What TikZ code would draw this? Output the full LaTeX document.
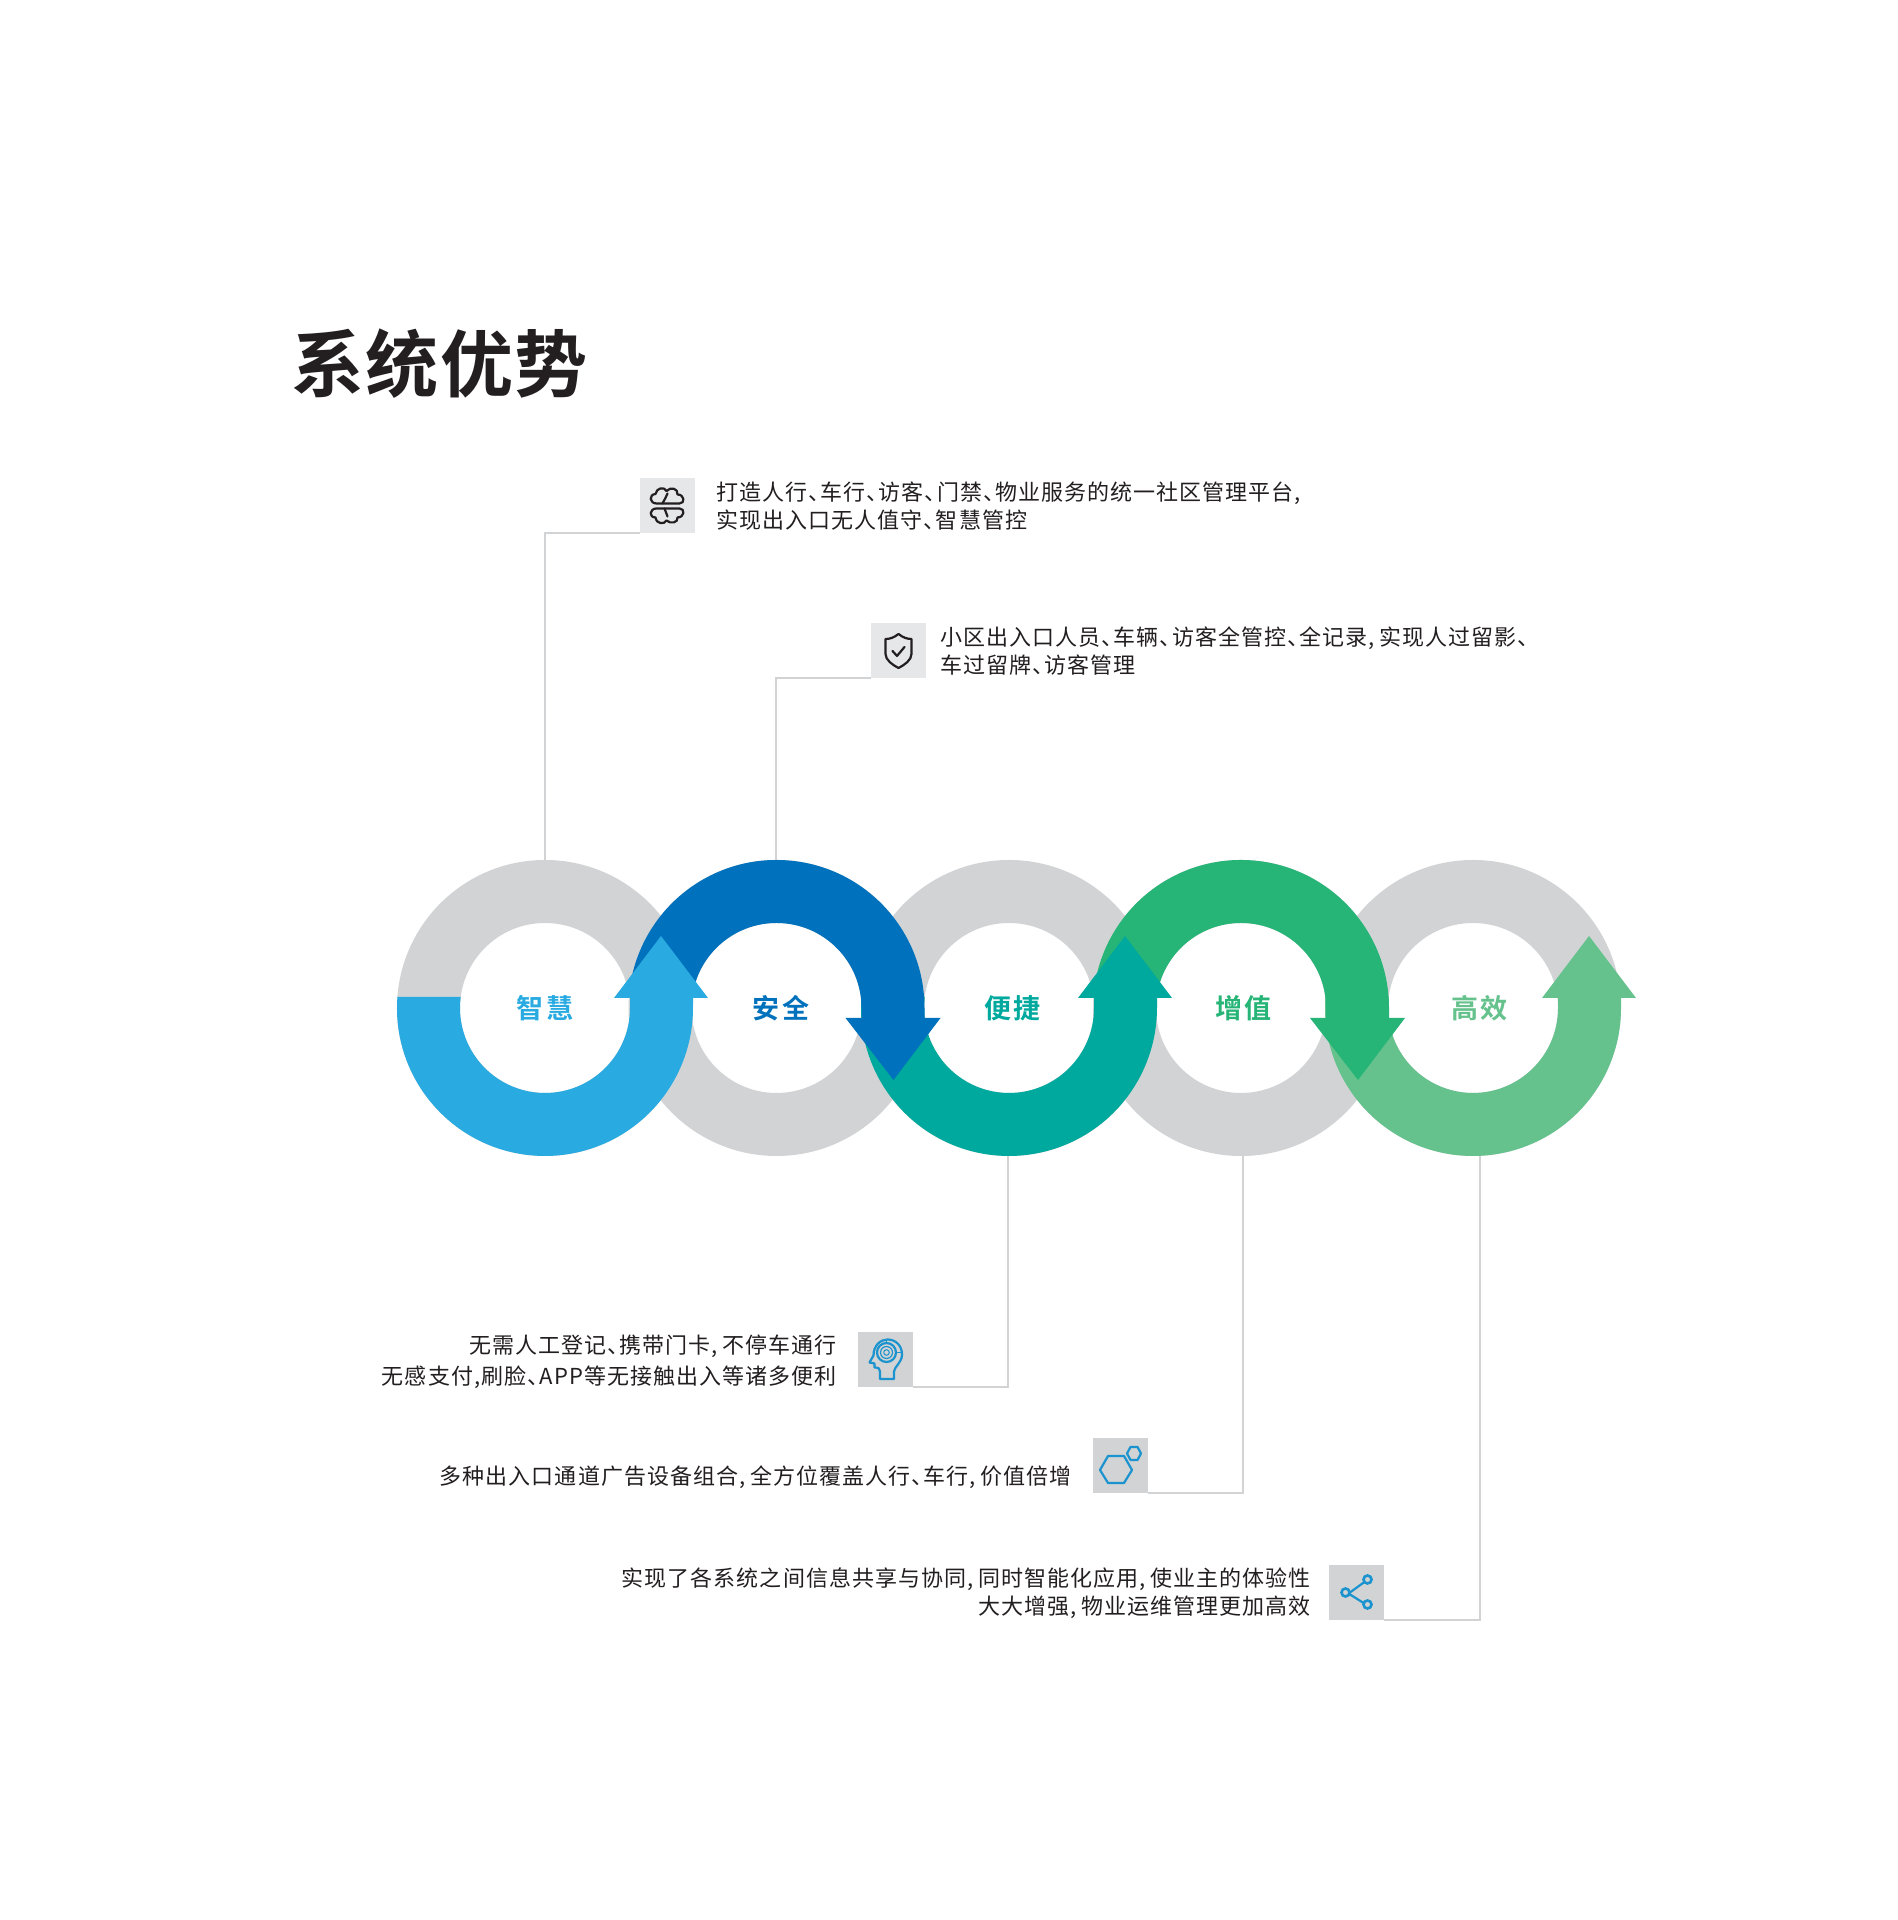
\documentclass[tikz,border=0pt]{standalone}
\usepackage{fontspec}
\newfontfamily\cjk[RawFeature=+halt,LetterSpace=4.8]{Noto Sans CJK SC}
\newfontfamily\cjkb[LetterSpace=8]{Noto Sans CJK SC Bold}
\newfontfamily\cjkt[LetterSpace=2]{Noto Sans CJK SC Bold}
\newcommand{\cmgap}{,\hspace{2.3pt}}
\definecolor{ringgray}{HTML}{D1D3D4}
\definecolor{boxlight}{HTML}{E6E7E8}
\definecolor{cA}{HTML}{29ABE2}
\definecolor{cB}{HTML}{0071BC}
\definecolor{cC}{HTML}{00A99D}
\definecolor{cD}{HTML}{26B577}
\definecolor{cE}{HTML}{66C28D}
\definecolor{icon}{HTML}{1B93CF}
\definecolor{ink}{HTML}{231F20}
\tikzset{
  iconbox/.style={minimum size=27.5pt,inner sep=0pt,outer sep=0pt,fill=ringgray},
  conn/.style={draw=ringgray,line width=1pt},
  para/.style={inner sep=0pt,text=ink,font=\cjk\fontsize{11}{14}\selectfont},
  lbl/.style={inner sep=0pt,font=\cjkb\fontsize{13.5}{16}\selectfont},
  dk/.style={line width=1.1pt,draw=ink,line join=round,line cap=round,fill=none},
  bl/.style={line width=1.1pt,draw=icon,line join=round,line cap=round,fill=none},
}
% ring: #1 centre x; y is 912 (px, y up)
\newcommand{\grayring}[1]{\fill[ringgray,even odd rule] (#1,912) circle[radius=148] (#1,912) circle[radius=85];}
% up arrow: bottom half, from left at y=923 round the bottom to right, head at x+116.5
\newcommand{\uparc}[2]{\fill[#2] ({#1-147.6},923) arc[start angle=175.74,end angle=360,radius=148] -- ({#1+148},922) -- ({#1+163},922) -- ({#1+116},984) -- ({#1+69},922) -- ({#1+85},922) -- ({#1+85},912) arc[start angle=360,end angle=172.57,radius=85] -- cycle;}
% down arrow: top half, from left at y=923 over the top to right, head at x+116.5
\newcommand{\downarc}[2]{\fill[#2] ({#1-147.6},923) arc[start angle=175.74,end angle=0,radius=148] -- ({#1+148},902) -- ({#1+164},902) -- ({#1+117},840) -- ({#1+69},902) -- ({#1+85},902) -- ({#1+85},912) arc[start angle=0,end angle=172.57,radius=85] -- cycle;}
\begin{document}
\begin{tikzpicture}[x=0.5pt,y=0.5pt]
\useasboundingbox (0,0) rectangle (1898,1920);
\fill[white] (0,0) rectangle (1898,1920);

\node[inner sep=0pt,anchor=west,text=ink,font=\cjkt\fontsize{36.5}{40}\selectfont] (title) at (291,1556) {系统优势};

% rings
\grayring{545}\grayring{776.5}\grayring{1009}\grayring{1241}\grayring{1473}
\uparc{1473}{cE}
\downarc{1241}{cD}
\uparc{1009}{cC}
\downarc{776.5}{cB}
\uparc{545}{cA}

% ring labels
\node[lbl,text=cA] (l1) at (545,911.5) {智慧};
\node[lbl,text=cB] (l2) at (781,911.5) {安全};
\node[lbl,text=cC] (l3) at (1012.5,911.5) {便捷};
\node[lbl,text=cD] (l4) at (1243.5,911.5) {增值};
\node[lbl,text=cE] (l5) at (1479.5,911.5) {高效};

% connector ends on the rings
\coordinate (t1) at (545,1060);
\coordinate (t2) at (776,1060);
\coordinate (t3) at (1008,764);
\coordinate (t4) at (1243,764);
\coordinate (t5) at (1480,764);

% boxes
\node[iconbox,fill=boxlight] (b1) at (667.5,1414.5) {};
\node[iconbox,fill=boxlight] (b2) at (898.5,1269) {};
\node[iconbox] (b3) at (885.5,560.5) {};
\node[iconbox] (b4) at (1120.5,454.5) {};
\node[iconbox] (b5) at (1356.5,327.5) {};

% connectors
\draw[conn] (t1) |- (b1.south west);
\draw[conn] (t2) |- (b2.south west);
\draw[conn] (t3) |- (b3.south east);
\draw[conn] (t4) |- (b4.south east);
\draw[conn] (t5) |- (b5.south east);

% texts
\node[para,anchor=north west,align=left] (p1) at (716,1439) {打造人行、车行、访客、门禁、物业服务的统一社区管理平台,\\实现出入口无人值守、智慧管控};
\node[para,anchor=north west,align=left] (p2) at (940,1294) {小区出入口人员、车辆、访客全管控、全记录\cmgap 实现人过留影、\\车过留牌、访客管理};
\node[para,anchor=north east,align=right,font=\cjk\fontsize{11}{15.3}\selectfont] (p3) at (837,585.5) {无需人工登记、携带门卡\cmgap 不停车通行\\无感支付,\hspace{0.6pt}刷脸、APP等无接触出入等诸多便利};
\node[para,anchor=east] (p4) at (1072,443) {多种出入口通道广告设备组合\cmgap 全方位覆盖人行、车行\cmgap 价值倍增};
\node[para,anchor=north east,align=right] (p5) at (1311,352.5) {实现了各系统之间信息共享与协同\cmgap 同时智能化应用\cmgap 使业主的体验性\\大大增强\cmgap 物业运维管理更加高效};

% icon 1: cloud and mirrored cloud
\begin{scope}[shift={(b1.center)}]
\draw[dk] (-11,2) .. controls (-18,2) and (-19,11) .. (-12,11.5) .. controls (-11,18) and (-3,19) .. (-1,14.5) .. controls (3,19) and (11,17) .. (10,11) .. controls (17,11) and (18,2) .. (12,2) -- (-11,2);
\draw[dk] (-11,-3) .. controls (-18,-3) and (-19,-12) .. (-12,-12) .. controls (-11,-19) and (-3,-19) .. (-1,-15) .. controls (3,-19) and (11,-17) .. (10,-12) .. controls (17,-12) and (18,-3) .. (12,-3) -- (-11,-3);
\draw[dk] (-5,2) .. controls (-3,6) and (-1,9) .. (0,12);
\draw[dk] (-3,-3) .. controls (-2,-6) and (-1,-8) .. (0,-11);
\end{scope}
% icon 2: shield with tick
\begin{scope}[shift={(b2.center)}]
\draw[dk] (0,17) .. controls (5,13) and (9,12) .. (13,12) -- (13,-3) .. controls (13,-9) and (6,-14) .. (0,-17) .. controls (-6,-14) and (-13,-9) .. (-13,-3) -- (-13,12) .. controls (-9,12) and (-5,13) .. (0,17) -- cycle;
\draw[dk] (-6,0) -- (-1.5,-5) -- (6,4);
\end{scope}
% icon 3: head with target
\begin{scope}[shift={(b3.center)}]
\draw[bl] (-5.5,-19.5) -- (-5.5,-12) .. controls (-5.5,-9) and (-7,-8) .. (-11,-8) -- (-11,-4) -- (-16,-3) -- (-12,4) .. controls (-12,14) and (-5,20) .. (2,20) .. controls (10,20) and (16.5,14) .. (16.5,5) .. controls (16.5,-3) and (9,-7) .. (8.5,-12) -- (8.5,-19.5) -- cycle;
\draw[bl] (1,7) circle[radius=9.5];
\draw[bl,line width=.6pt] (1,7) circle[radius=6];
\draw[bl,line width=.5pt] (1,7) circle[radius=2.8];
\draw[bl,line width=.5pt] (10.5,7) -- (16.5,7);
\draw[bl,line width=.5pt] (1,16.5) -- (1,20);
\end{scope}
% icon 4: hexagons
\draw[bl] (1132,450) -- (1124,464) -- (1108,464) -- (1100,450) -- (1108,437) -- (1124,437) -- cycle;
\draw[bl] (1141,466.5) -- (1137.5,473) -- (1130.5,473) -- (1127,466.5) -- (1130.5,460) -- (1137.5,460) -- cycle;
% icon 5: share
\begin{scope}[shift={(b5.center)}]
\draw[bl] (-8,-1) -- (10,12);
\draw[bl] (-8,-1) -- (11,-13);
\fill[ringgray,draw=icon,line width=1.3pt] (-11,0) circle[radius=4];
\fill[ringgray,draw=icon,line width=1.3pt] (11,13) circle[radius=4];
\fill[ringgray,draw=icon,line width=1.3pt] (11,-12) circle[radius=4];
\end{scope}
\end{tikzpicture}
\end{document}
